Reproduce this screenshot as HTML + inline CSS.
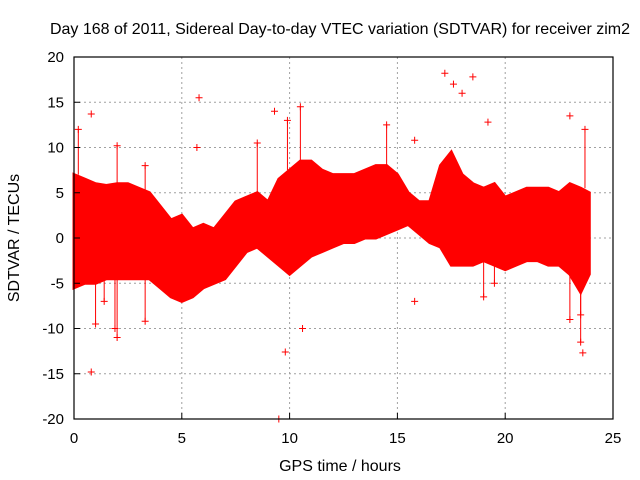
<!DOCTYPE html>
<html><head><meta charset="utf-8"><style>
body{margin:0;background:#fff;}
svg{display:block;font-family:"Liberation Sans",sans-serif;}
</style></head><body>
<svg id="chart" width="640" height="480" viewBox="0 0 640 480">
<text x="340" y="34" font-size="16" text-anchor="middle" fill="#000">Day 168 of 2011, Sidereal Day-to-day VTEC variation (SDTVAR) for receiver zim2</text>
<text x="340" y="471" font-size="16" text-anchor="middle" fill="#000">GPS time / hours</text>
<text transform="translate(19,238) rotate(-90)" font-size="16" text-anchor="middle" fill="#000">SDTVAR / TECUs</text>
<g id="grid"></g><g id="marks"></g><g id="axes"></g>
</svg>
<script>
const xTicks=[0,5,10,15,20,25];
const yTicks=[-20,-15,-10,-5,0,5,10,15,20];
const bandTimes=[0,0.5,1,1.5,2,2.5,3,3.5,4,4.5,5,5.5,6,6.5,7,7.5,8,8.5,9,9.5,10,10.5,11,11.5,12,12.5,13,13.5,14,14.5,15,15.5,16,16.5,17,17.5,18,18.5,19,19.5,20,20.5,21,21.5,22,22.5,23,23.5,23.9];
const bandUpper=[7,6.5,6,5.8,6,6,5.5,5,3.5,2,2.5,1,1.5,1,2.5,4,4.5,5,4,6.5,7.5,8.5,8.5,7.5,7,7,7,7.5,8,8,7,5,4,4,8,9.5,7,6,5.5,6,4.5,5,5.5,5.5,5.5,5,6,5.5,5];
const bandLower=[-5.5,-5,-5,-4.5,-4.5,-4.5,-4.5,-4.5,-5.5,-6.5,-7,-6.5,-5.5,-5,-4.5,-3,-1.5,-1,-2,-3,-4,-3,-2,-1.5,-1,-0.5,-0.5,0,0,0.5,1,1.5,0.5,-0.5,-1,-3,-3,-3,-2.5,-3,-3.5,-3,-2.5,-2.5,-3,-3,-4,-6,-4];
const outT=[0.2,0.8,0.8,1,1.4,2,2,3.3,3.3,5.7,5.8,8.5,9.3,9.5,9.8,9.9,10.5,10.6,14.5,15.8,15.8,17.2,17.6,18,18.5,19.2,19.5,19,23,23,23.5,23.6,23.7,23.5,1.9];
const outV=[12,13.7,-14.8,-9.5,-7,10.2,-11,8,-9.2,10,15.5,10.5,14,-20,-12.6,13,14.5,-10,12.5,10.8,-7,18.2,17,16,17.8,12.8,-5,-6.5,13.5,-9,-11.5,-12.7,12,-8.5,-10];
const X0=74,X1=613,Y0=419,Y1=57;
const sx=t=>X0+(t-0)/(25-0)*(X1-X0);
const sy=v=>Y0-(v+20)/40*(Y0-Y1);
const NS="http://www.w3.org/2000/svg";
function mk(tag,attrs,parent){const e=document.createElementNS(NS,tag);for(const k in attrs)e.setAttribute(k,attrs[k]);parent.appendChild(e);return e;}
const grid=document.getElementById('grid'),marks=document.getElementById('marks'),axes=document.getElementById('axes');
xTicks.forEach(t=>{
  if(t>0&&t<25){const g=mk('line',{x1:sx(t),x2:sx(t),y1:Y1,y2:Y0,stroke:'#a0a0a0','stroke-dasharray':'2,3'},grid);
  
  }
  const tk=mk('line',{x1:sx(t),x2:sx(t),y1:Y0,y2:Y0-6,stroke:'#000'},axes);
  
  
  const l=mk('text',{x:sx(t),y:Y0+24,'font-size':15,'text-anchor':'middle'},axes);l.textContent=t;
  
  
});
yTicks.forEach(v=>{
  if(v>-20&&v<20){const g=mk('line',{x1:X0,x2:X1,y1:sy(v),y2:sy(v),stroke:'#a0a0a0','stroke-dasharray':'2,3'},grid);
  
  }
  const tk=mk('line',{x1:X0,x2:X0+6,y1:sy(v),y2:sy(v),stroke:'#000'},axes);
  
  
  const l=mk('text',{x:X0-10,y:sy(v)+5,'font-size':15,'text-anchor':'end'},axes);l.textContent=v;
  
  
});
const fr=mk('rect',{x:X0,y:Y1,width:X1-X0,height:Y0-Y1,fill:'none',stroke:'#000','stroke-width':1.2},axes);


let pts=bandTimes.map((t,i)=>sx(t)+','+sy(bandUpper[i]));
for(let i=bandTimes.length-1;i>=0;i--)pts.push(sx(bandTimes[i])+','+sy(bandLower[i]));
const band=mk('polygon',{points:pts.join(' '),fill:'#ff0000',stroke:'#ff0000','stroke-width':3},marks);


outT.forEach((t,i)=>{
  const x=sx(t),y=sy(outV[i]);
  const base=outV[i]>0?sy(bandUpper[Math.round(t*2)]||0):sy(bandLower[Math.round(t*2)]||0);
  if(Math.abs(y-base)<60){const s=mk('line',{x1:x,x2:x,y1:base,y2:y,stroke:'#ff0000','stroke-width':1},marks);
  
  }
  const p=mk('path',{d:`M${x-3.5},${y}H${x+3.5}M${x},${y-3.5}V${y+3.5}`,stroke:'#ff0000','stroke-width':1},marks);
  
  
});
</script>
</body></html>
